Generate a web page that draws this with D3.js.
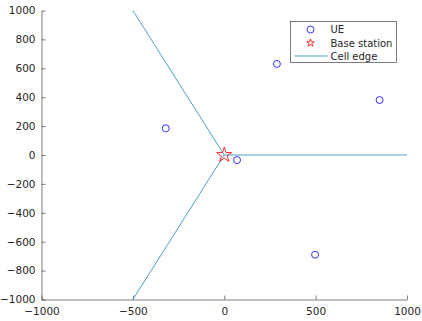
<!DOCTYPE html>
<html>
<head>
<meta charset="utf-8">
<script src="https://cdn.jsdelivr.net/npm/d3@7"></script>
<style>
  body { margin: 0; background: #fff; }
  text { font-family: "DejaVu Sans", sans-serif; fill: #262626; }
</style>
</head>
<body>
<div id="chart"></div>
<script>
// UE positions
let ueX = [-320, 288, 850, 70, 497];
let ueY = [185, 630, 380, -35, -690];

// Base station
let bsX = [0];
let bsY = [0];

// Cell edge segments (each starts at the base station)
let edgeX = [1000, -500, -500];
let edgeY = [0, 1000, -1000];

let xTicks = [-1000, -500, 0, 500, 1000];
let yTicks = [-1000, -800, -600, -400, -200, 0, 200, 400, 600, 800, 1000];

let legendLabels = ["UE", "Base station", "Cell edge"];

let margin = { top: 10.5, right: 15, bottom: 21.5, left: 41.5 };
let svgWidth = 422, svgHeight = 321;
let chartWidth = svgWidth - margin.left - margin.right;
let chartHeight = svgHeight - margin.top - margin.bottom;

let svg = d3.select('#chart')
            .append('svg')
            .attr('width', svgWidth)
            .attr('height', svgHeight);

let chartGrp = svg.append('g')
            .attr('transform', `translate(${margin.left}, ${margin.top})`);

let xScale = d3.scaleLinear().domain([-1000, 1000]).range([0, chartWidth]);
let yScale = d3.scaleLinear().domain([-1000, 1000]).range([chartHeight, 0]);

// Axes, MATLAB style: ticks pointing in
let fmt = d3.format('d');
let xAxis = d3.axisBottom(xScale).tickValues(xTicks).tickFormat(fmt)
    .tickSizeInner(-4).tickSizeOuter(0).tickPadding(8);
let yAxis = d3.axisLeft(yScale).tickValues(yTicks).tickFormat(fmt)
    .tickSizeInner(-4).tickSizeOuter(0).tickPadding(6);

let gx = chartGrp.append('g')
    .attr('transform', `translate(0, ${chartHeight})`)
    .call(xAxis);
let gy = chartGrp.append('g').call(yAxis);

[gx, gy].forEach(g => {
    g.selectAll('path, line').attr('stroke', '#262626').attr('stroke-width', 0.6);
    g.selectAll('text').attr('font-size', 10.5).attr('font-family', 'DejaVu Sans').attr('fill', '#262626');
});

// Cell edges
let edgeColor = '#0072BD';
chartGrp.selectAll('.edge')
    .data(edgeX.map((x, i) => ({ x: x, y: edgeY[i] })))
    .enter()
    .append('line')
    .attr('x1', xScale(bsX[0]))
    .attr('y1', yScale(bsY[0]))
    .attr('x2', d => xScale(d.x))
    .attr('y2', d => yScale(d.y))
    .attr('stroke', edgeColor)
    .attr('stroke-width', 0.7);

// UEs
chartGrp.selectAll('.ue')
    .data(ueX.map((x, i) => ({ x: x, y: ueY[i] })))
    .enter()
    .append('circle')
    .attr('cx', d => xScale(d.x))
    .attr('cy', d => yScale(d.y))
    .attr('r', 3.5)
    .attr('fill', 'none')
    .attr('stroke', '#0000ff')
    .attr('stroke-width', 0.8);

// Base station star
let star = d3.symbol().type(d3.symbolStar);
chartGrp.selectAll('.bs')
    .data(bsX.map((x, i) => ({ x: x, y: bsY[i] })))
    .enter()
    .append('path')
    .attr('d', star.size(70))
    .attr('transform', d => `translate(${xScale(d.x)}, ${yScale(d.y)})`)
    .attr('fill', 'none')
    .attr('stroke', '#ff0000')
    .attr('stroke-width', 0.8);

// Legend
let lg = svg.append('g').attr('transform', 'translate(290.5, 21.5)');
lg.append('rect')
    .attr('width', 106)
    .attr('height', 41)
    .attr('fill', '#fff')
    .attr('stroke', '#262626')
    .attr('stroke-width', 0.6);

let rowY = [8, 21.5, 34.5];
lg.append('circle').attr('cx', 20).attr('cy', rowY[0]).attr('r', 3.5)
    .attr('fill', 'none').attr('stroke', '#0000ff').attr('stroke-width', 0.8);
lg.append('path').attr('d', d3.symbol().type(d3.symbolStar).size(18)())
    .attr('transform', `translate(20, ${rowY[1]})`)
    .attr('fill', 'none').attr('stroke', '#ff0000').attr('stroke-width', 0.8);
lg.append('line').attr('x1', 4).attr('x2', 37).attr('y1', rowY[2]).attr('y2', rowY[2])
    .attr('stroke', edgeColor).attr('stroke-width', 0.7);

lg.selectAll('.lbl')
    .data(legendLabels)
    .enter()
    .append('text')
    .attr('x', 40)
    .attr('y', (d, i) => rowY[i])
    .attr('dy', '0.35em')
    .attr('font-size', 10)
    .text(d => d);
</script>
</body>
</html>
